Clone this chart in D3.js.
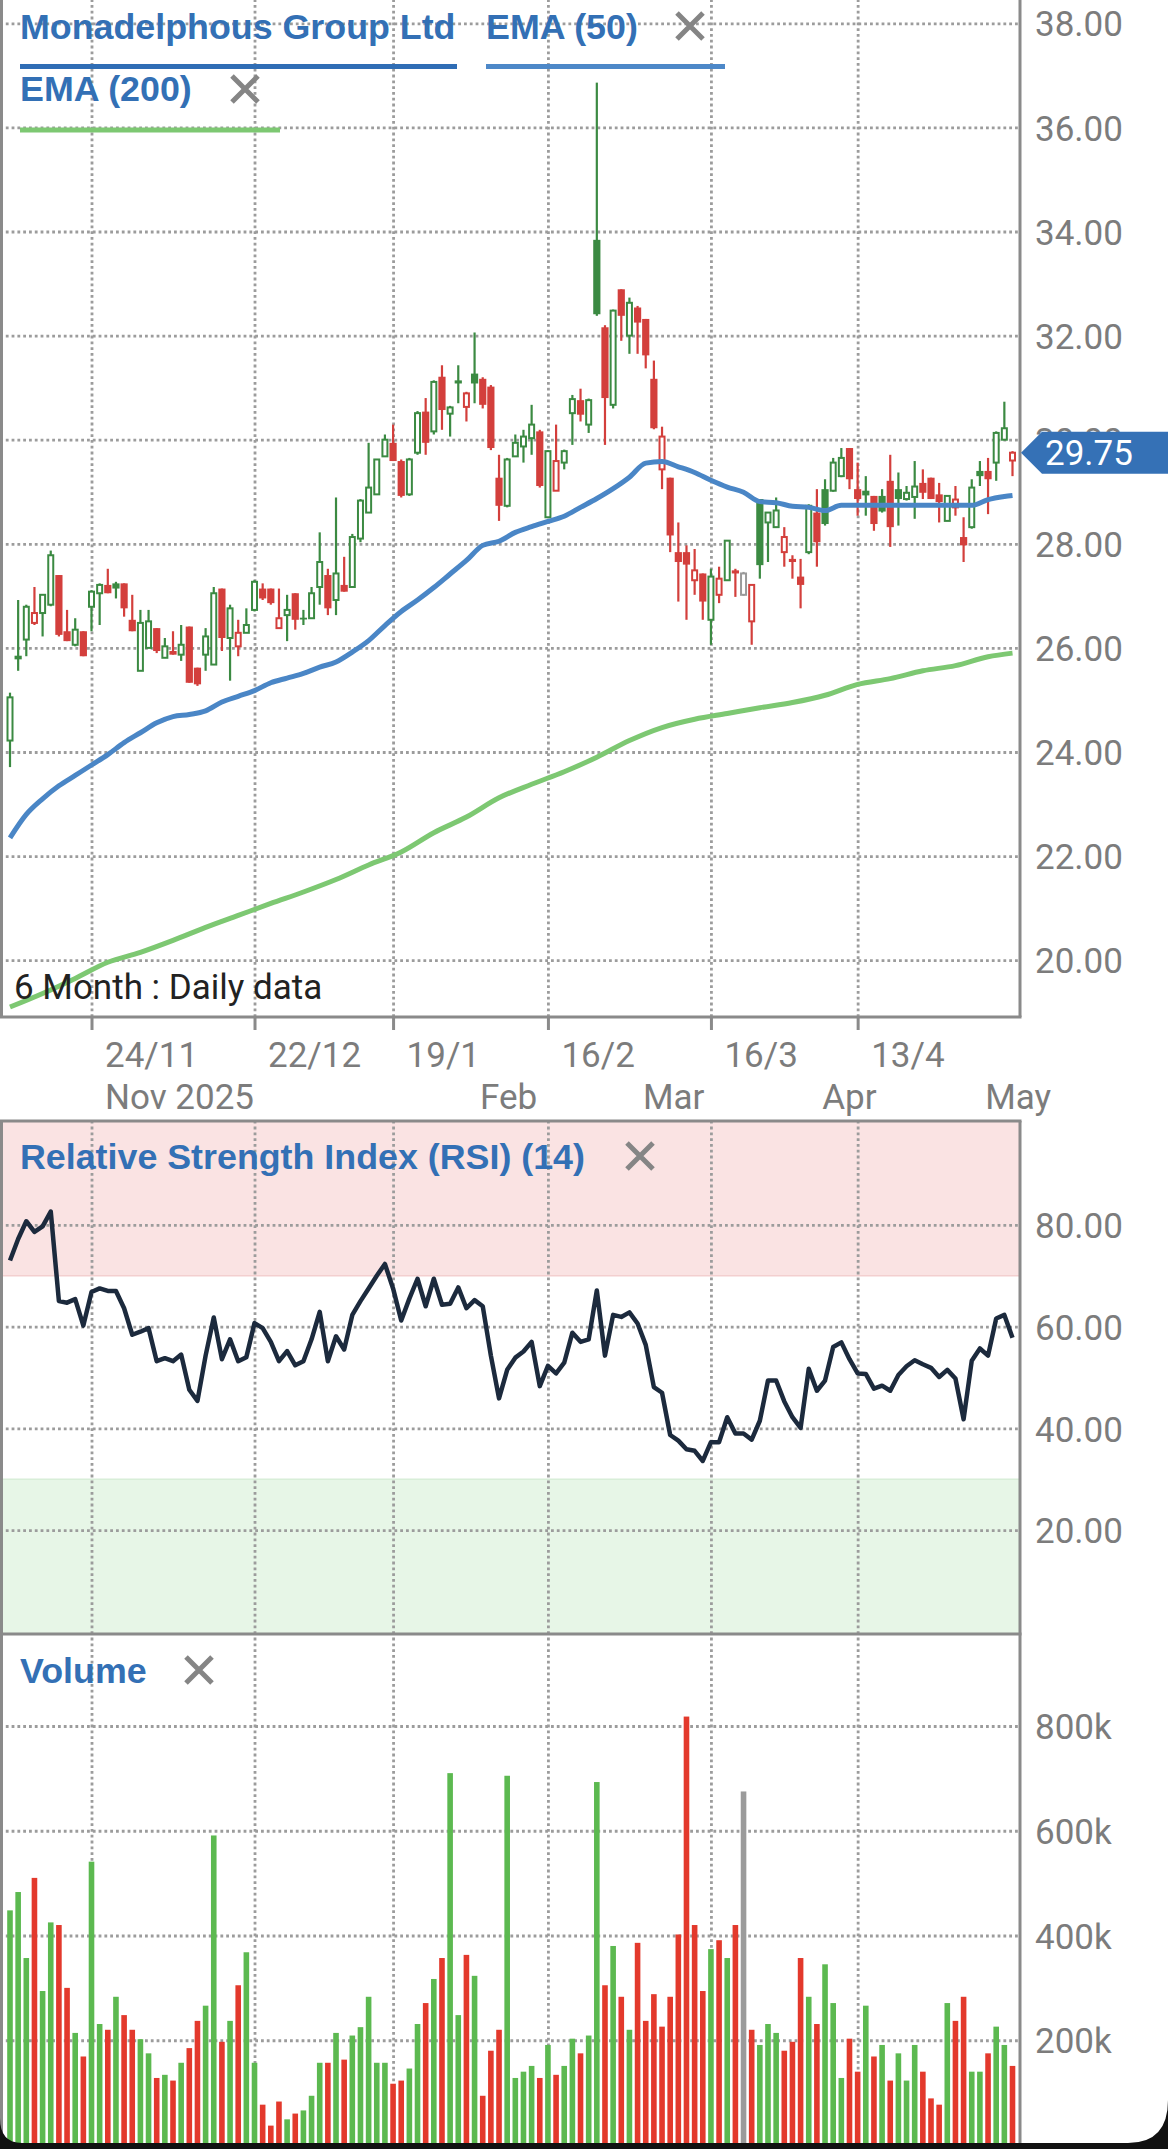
<!DOCTYPE html>
<html>
<head>
<meta charset="utf-8">
<script src="https://cdn.jsdelivr.net/npm/d3@7"></script>
<style>
  html, body { margin: 0; padding: 0; background: #fff; }
  svg { display: block; }
  .ax text { font-family: Roboto, "Noto Sans", sans-serif; font-size: 35px; fill: #7c7c7c; }
  .legend { font-family: "Liberation Sans", Arial, sans-serif; font-weight: bold; font-size: 35.8px; fill: #3370b5; }
</style>
</head>
<body>
<div id="chart"></div>
<script>
// ---- data ----
const open = [24.22,25.85,26.16,26.48,26.67,26.83,27.40,26.32,26.06,26.32,26.79,27.05,27.21,27.24,27.24,26.54,25.56,26.00,26.38,25.81,
  25.94,25.87,26.41,25.62,25.87,25.68,27.14,26.19,26.03,26.29,26.73,27.14,27.14,26.38,26.63,27.05,26.58,26.57,27.17,27.40,
  26.92,27.21,27.17,28.10,28.60,28.95,29.68,29.94,29.59,28.95,29.75,30.54,30.16,31.21,30.50,31.14,30.63,31.27,31.17,31.02,
  29.27,28.73,29.68,29.87,30.03,30.16,28.51,29.02,29.56,30.51,30.76,30.29,33.84,32.16,30.67,32.89,32.00,32.54,32.32,31.17,
  29.43,29.27,27.84,27.84,27.30,27.43,26.54,27.02,27.30,27.49,27.02,26.51,28.86,28.41,28.32,27.84,27.71,27.37,27.84,28.60,
  29.05,29.02,29.30,29.84,29.05,29.02,28.92,28.92,29.21,29.05,28.86,28.90,29.17,29.27,28.95,28.44,28.70,28.13,28.32,29.40,
  29.40,29.56,30.00,29.60];
const high = [25.14,26.92,26.83,27.17,27.02,27.87,27.40,26.73,26.57,26.32,27.11,27.24,27.52,27.27,27.24,27.02,26.73,26.73,26.38,26.19,
  26.32,26.44,26.41,25.62,26.38,27.17,27.14,26.83,26.54,26.76,27.30,27.24,27.14,27.14,27.02,27.05,26.73,27.17,28.22,27.52,
  28.89,27.75,28.19,28.86,29.94,29.62,30.10,30.29,29.62,29.65,30.55,30.80,31.14,31.43,30.65,31.43,30.92,32.06,31.20,31.05,
  29.71,29.65,30.10,30.19,30.67,30.19,29.80,30.29,29.81,30.86,30.98,30.79,36.86,32.20,32.50,32.89,32.73,32.57,32.32,31.52,
  30.25,29.27,28.41,27.97,27.90,27.43,27.52,27.56,28.06,27.52,27.46,27.21,28.86,28.60,28.89,28.32,27.78,27.71,28.76,29.05,
  29.24,29.65,29.84,29.84,29.56,29.30,28.92,29.05,29.71,29.37,29.11,29.59,29.43,29.27,29.17,28.92,29.11,28.51,29.24,29.59,
  29.65,30.16,30.73,29.78];
const low = [23.71,25.56,25.84,26.44,26.22,26.80,26.22,26.13,26.03,25.84,26.32,26.44,27.05,26.95,26.60,26.32,25.56,26.00,25.90,25.81,
  25.87,25.75,25.33,25.27,25.56,25.68,25.94,25.37,25.84,26.29,26.70,26.92,26.83,26.38,26.13,26.35,26.44,26.57,26.83,26.63,
  26.63,27.08,27.17,28.03,28.60,28.95,29.68,29.59,28.89,28.92,29.71,29.71,30.10,30.19,30.06,30.70,30.35,30.70,30.60,29.80,
  28.44,28.70,29.68,29.56,29.71,29.08,28.51,29.02,29.43,29.90,30.35,30.13,32.38,29.90,30.60,31.90,31.65,31.65,31.37,30.20,
  29.05,27.84,26.89,26.54,27.02,26.54,26.06,26.86,27.30,26.98,27.00,26.06,27.33,27.65,28.32,27.56,27.33,26.76,27.80,27.56,
  28.35,29.00,29.28,29.05,28.54,28.54,28.25,28.60,27.94,28.35,28.83,28.48,28.86,28.86,28.41,28.44,28.54,27.65,28.29,29.11,
  28.57,29.21,30.00,29.30];
const close = [25.05,25.78,26.79,26.67,27.02,27.78,26.25,26.13,26.35,25.84,27.08,27.21,27.05,27.14,26.76,26.32,26.48,26.51,25.94,26.03,
  25.87,26.06,25.33,25.30,26.22,27.05,26.19,26.76,26.29,26.44,27.27,26.95,26.86,26.57,26.73,26.54,26.55,27.05,27.65,26.76,
  27.43,27.08,28.13,28.83,29.08,29.62,30.00,29.59,28.92,29.62,30.51,29.94,31.11,30.57,30.62,31.08,30.89,31.08,30.67,29.84,
  28.73,29.62,29.94,30.06,30.29,29.11,29.78,29.59,29.78,30.78,30.48,30.76,32.41,30.80,32.48,32.38,32.63,32.25,31.62,30.22,
  30.06,28.16,27.65,27.60,27.49,26.89,27.37,27.33,28.06,27.43,27.43,27.21,27.59,28.60,28.64,28.13,27.65,27.21,28.73,28.03,
  28.38,29.56,29.65,29.24,28.86,28.93,28.38,28.62,28.32,28.86,28.98,29.10,28.98,28.86,28.80,28.92,28.85,27.97,29.08,29.30,
  29.24,30.13,30.22,29.75];
const volume = [448,483,357,510,294,425,420,300,214,169,541,231,220,283,248,220,202,175,128,134,
  123,157,185,237,266,591,197,237,305,368,157,77,37,83,49,60,66,94,157,157,
  214,163,209,225,283,157,157,117,123,146,231,271,317,357,710,248,363,323,94,180,
  220,705,128,140,151,128,191,134,151,203,175,209,693,305,380,283,220,386,237,288,
  226,283,402,818,420,294,374,391,357,420,675,220,191,231,214,180,197,357,283,231,
  345,271,128,203,140,266,169,191,123,175,123,191,140,89,77,271,237,283,140,140,
  175,226,191,151].map(v => v * 1000);
const rsi = [73.0,77.2,80.7,78.6,79.7,82.6,65.0,64.7,65.4,60.2,66.8,67.5,67.0,67.0,63.6,58.4,59.0,59.7,53.2,53.8,
  53.2,54.5,47.6,45.4,54.3,61.8,53.6,57.5,53.2,54.0,60.7,59.7,57.0,53.2,55.2,52.4,53.2,57.5,62.9,53.2,
  58.1,55.5,62.3,65.0,67.5,70.0,72.3,67.5,61.2,65.5,69.4,64.0,69.4,64.3,64.5,67.7,63.6,65.2,64.0,54.3,
  45.9,51.5,53.9,55.1,57.0,48.3,52.3,50.8,52.9,58.8,57.0,57.5,67.1,54.3,62.3,61.9,62.8,60.6,56.4,48.1,
  47.0,38.7,37.6,35.9,35.6,33.6,37.3,37.3,42.2,39.0,39.0,37.8,41.5,49.4,49.4,45.3,42.2,40.1,51.7,47.4,
  49.4,56.0,56.9,53.6,50.8,50.7,47.8,48.4,47.4,50.5,52.2,53.4,52.6,51.9,50.1,51.5,49.8,41.8,53.3,55.7,
  54.3,61.6,62.3,57.8];
// EMA values read every 2nd / 4th trading day
const ema50Day = d3.range(0, 123, 2).concat([123]);
const ema50 = [22.35,22.80,23.10,23.35,23.55,23.75,23.95,24.18,24.37,24.56,24.68,24.72,24.79,24.96,25.07,25.18,25.33,25.42,25.51,25.63,
  25.73,25.92,26.14,26.43,26.70,26.92,27.16,27.42,27.68,27.97,28.05,28.22,28.33,28.43,28.53,28.70,28.87,29.06,29.28,29.55,
  29.58,29.48,29.37,29.22,29.09,28.99,28.81,28.79,28.72,28.70,28.64,28.74,28.74,28.74,28.74,28.74,28.74,28.74,28.74,28.74,
  28.85,28.91,28.93];
const ema200Day = d3.range(0, 121, 4).concat([123]);
const ema200 = [19.10,19.36,19.65,19.96,20.15,20.38,20.63,20.86,21.09,21.31,21.55,21.83,22.08,22.45,22.75,23.12,23.38,23.62,23.90,24.22,
  24.47,24.63,24.74,24.85,24.95,25.09,25.30,25.41,25.56,25.66,25.83,25.90];

const holidays = ["2025-12-25","2025-12-26","2026-01-01","2026-01-26","2026-04-03","2026-04-06"];
const dayTickDates = ["2025-11-24","2025-12-22","2026-01-19","2026-02-16","2026-03-16","2026-04-13"];
const dayTickLabels = ["24/11","22/12","19/1","16/2","16/3","13/4"];
const monthTickDates = ["2025-11-24","2026-02-02","2026-03-02","2026-04-01","2026-05-01"];
const monthTickLabels = ["Nov 2025","Feb","Mar","Apr","May"];
const priceTicks = [20,22,24,26,28,30,32,34,36,38];
const rsiTicks = [20,40,60,80];
const volTicks = [200000,400000,600000,800000];
const lastPrice = 29.75;

// trading days (weekdays less ASX holidays)
const dates = [];
for (let t = Date.UTC(2025, 10, 10); dates.length < close.length; t += 864e5) {
  const d = new Date(t), s = d.toISOString().slice(0, 10), wd = d.getUTCDay();
  if (wd !== 0 && wd !== 6 && !holidays.includes(s)) dates.push(s);
}
const idx = s => dates.indexOf(s);

// ---- layout ----
const W = 1168, H = 2149, R = 1020;
const P = {top: 0, bottom: 1017};
const S = {top: 1121, bottom: 1634};
const V = {top: 1634, bottom: 2145};

const x = d3.scaleLinear().domain([0, dates.length - 1]).range([10, 1012.5]);
const yP = d3.scaleLinear().domain([20, 38]).range([960.2, 23.3]);
const yR = d3.scaleLinear().domain([0, 100]).range([1632, 1123]);
const yV = d3.scaleLinear().domain([0, 800000]).range([2145, 1726]);

const svg = d3.select("#chart").append("svg").attr("width", W).attr("height", H);
svg.append("rect").attr("width", W).attr("height", H).attr("fill", "#fff");

const defs = svg.append("defs");
defs.append("clipPath").attr("id", "cp").append("rect").attr("x", 2).attr("y", 0).attr("width", R - 2).attr("height", P.bottom);
defs.append("clipPath").attr("id", "cr").append("rect").attr("x", 2).attr("y", S.top).attr("width", R - 2).attr("height", S.bottom - S.top);

// RSI bands
svg.append("rect").attr("x", 2).attr("y", S.top).attr("width", R - 2).attr("height", yR(70) - S.top).attr("fill", "#fae3e3");
svg.append("rect").attr("x", 2).attr("y", yR(30)).attr("width", R - 2).attr("height", S.bottom - yR(30)).attr("fill", "#e7f6e7");
svg.append("line").attr("x1", 2).attr("x2", R).attr("y1", yR(70)).attr("y2", yR(70)).attr("stroke", "#f3cfcf").attr("stroke-width", 1.5);
svg.append("line").attr("x1", 2).attr("x2", R).attr("y1", yR(30)).attr("y2", yR(30)).attr("stroke", "#d8eed8").attr("stroke-width", 1.5);

// grids
function styleGrid(g) {
  g.select(".domain").remove();
  g.selectAll("line").attr("stroke", "#9c9c9c").attr("stroke-width", 2.8).attr("stroke-dasharray", "2.8,3");
}
const dayTickIdx = dayTickDates.map(idx);
[[P.top, P.bottom], [S.top, S.bottom], [V.top, V.bottom]].forEach(([t, b]) => {
  svg.append("g").attr("transform", `translate(0,${b})`)
    .call(d3.axisBottom(x).tickValues(dayTickIdx).tickSize(-(b - t)).tickFormat(""))
    .call(styleGrid);
});
svg.append("g").call(d3.axisRight(yP).tickValues(priceTicks).tickSize(R).tickFormat("")).call(styleGrid);
svg.append("g").call(d3.axisRight(yR).tickValues(rsiTicks).tickSize(R).tickFormat("")).call(styleGrid);
svg.append("g").call(d3.axisRight(yV).tickValues(volTicks).tickSize(R).tickFormat("")).call(styleGrid);

// candles
const up = "#3b8a42", down = "#d33f3c", flat = "#9a9a9a";
const candles = close.map((c, i) => {
  const prev = i > 0 ? close[i - 1] : open[i];
  return {i, o: open[i], h: high[i], l: low[i], c, v: volume[i],
    col: c > prev ? up : c < prev ? down : flat, hollow: c > open[i]};
});
const cg = svg.append("g").attr("clip-path", "url(#cp)");
cg.selectAll("line.wick").data(candles).join("line").attr("class", "wick")
  .attr("x1", d => x(d.i)).attr("x2", d => x(d.i))
  .attr("y1", d => yP(d.h)).attr("y2", d => yP(d.l))
  .attr("stroke", d => d.col).attr("stroke-width", 2.2);
cg.selectAll("rect.body").data(candles).join("rect").attr("class", "body")
  .attr("x", d => x(d.i) - (d.hollow ? 2.5 : 3.6))
  .attr("width", d => d.hollow ? 5 : 7.2)
  .attr("y", d => yP(Math.max(d.o, d.c)))
  .attr("height", d => Math.max(1.8, Math.abs(yP(d.o) - yP(d.c))))
  .attr("fill", d => d.hollow ? "#fff" : d.col)
  .attr("stroke", d => d.hollow ? d.col : "none")
  .attr("stroke-width", 2);

// EMAs
const emaLine = d3.line().x(d => x(d[0])).y(d => yP(d[1])).curve(d3.curveMonotoneX);
cg.append("path").attr("d", emaLine(ema200Day.map((d, k) => [d, ema200[k]])))
  .attr("fill", "none").attr("stroke", "#7dc872").attr("stroke-width", 5);
cg.append("path").attr("d", emaLine(ema50Day.map((d, k) => [d, ema50[k]])))
  .attr("fill", "none").attr("stroke", "#4a86c6").attr("stroke-width", 5);

// RSI line
svg.append("g").attr("clip-path", "url(#cr)").append("path")
  .attr("d", d3.line().x((d, i) => x(i)).y(d => yR(d))(rsi))
  .attr("fill", "none").attr("stroke", "#1c2a3d").attr("stroke-width", 4.5)
  .attr("stroke-linejoin", "round");

// volume bars
svg.append("g").selectAll("rect").data(candles).join("rect")
  .attr("x", d => x(d.i) - 2.8).attr("width", 5.6)
  .attr("y", d => yV(d.v)).attr("height", d => yV(0) - yV(d.v))
  .attr("fill", d => d.col === up ? "#5cb950" : d.col === down ? "#e3392c" : "#9b9b9b");

// panel borders
const bc = "#8a8a8a";
function seg(x1, y1, x2, y2) {
  svg.append("line").attr("x1", x1).attr("y1", y1).attr("x2", x2).attr("y2", y2)
    .attr("stroke", bc).attr("stroke-width", 3);
}
seg(1.5, 0, 1.5, P.bottom); seg(R, 0, R, P.bottom); seg(0, P.bottom, R + 1.5, P.bottom);
seg(0, S.top, R + 1.5, S.top); seg(1.5, S.top, 1.5, V.bottom); seg(R, S.top, R, V.bottom);
seg(0, S.bottom, R + 1.5, S.bottom);

// right-hand axes
function rightAxis(scale, ticks, fmt) {
  svg.append("g").attr("class", "ax").attr("transform", `translate(${R},0)`)
    .call(d3.axisRight(scale).tickValues(ticks).tickSize(0).tickPadding(15).tickFormat(fmt))
    .call(g => g.select(".domain").remove())
    .call(g => g.selectAll("text").attr("dy", "0.36em"));
}
rightAxis(yP, priceTicks, d3.format(".2f"));
rightAxis(yR, rsiTicks, d3.format(".2f"));
rightAxis(yV, volTicks, d => d / 1000 + "k");

// date axis
svg.append("g").attr("class", "ax").attr("transform", `translate(0,${P.bottom})`)
  .call(d3.axisBottom(x).tickValues(dayTickIdx).tickSize(13).tickFormat((d, k) => dayTickLabels[k]))
  .call(g => g.select(".domain").remove())
  .call(g => g.selectAll("line").attr("stroke", bc).attr("stroke-width", 3))
  .call(g => g.selectAll("text").attr("text-anchor", "start").attr("x", 13).attr("y", 50).attr("dy", 0));
svg.append("g").attr("class", "ax").attr("transform", `translate(0,${P.bottom})`)
  .call(d3.axisBottom(x).tickValues(monthTickDates.map(idx)).tickSize(0).tickFormat((d, k) => monthTickLabels[k]))
  .call(g => g.select(".domain").remove())
  .call(g => g.selectAll("text").attr("text-anchor", "start").attr("x", 13).attr("y", 92).attr("dy", 0));

svg.append("text").attr("x", 14).attr("y", 999).text("6 Month : Daily data")
  .style("font-family", "Roboto, sans-serif").style("font-size", "35px").attr("fill", "#222");

// legends
function cross(cx, cy) {
  svg.append("path").attr("d", `M${cx - 13},${cy - 13}L${cx + 13},${cy + 13}M${cx + 13},${cy - 13}L${cx - 13},${cy + 13}`)
    .attr("stroke", "#858585").attr("stroke-width", 5);
}
svg.append("text").attr("class", "legend").attr("x", 20).attr("y", 39).text("Monadelphous Group Ltd");
svg.append("rect").attr("x", 20).attr("y", 64).attr("width", 437).attr("height", 5).attr("fill", "#2f6db5");
svg.append("text").attr("class", "legend").attr("x", 486).attr("y", 39).text("EMA (50)");
svg.append("rect").attr("x", 486).attr("y", 64).attr("width", 239).attr("height", 5).attr("fill", "#4d88c8");
cross(690, 26);
svg.append("text").attr("class", "legend").attr("x", 20).attr("y", 101).text("EMA (200)");
svg.append("rect").attr("x", 20).attr("y", 127.5).attr("width", 260).attr("height", 5).attr("fill", "#7dc872");
cross(245, 89);
svg.append("text").attr("class", "legend").attr("x", 20).attr("y", 1169).text("Relative Strength Index (RSI) (14)");
cross(640, 1156);
svg.append("text").attr("class", "legend").attr("x", 20).attr("y", 1683).text("Volume");
cross(199, 1670);

// last price flag (sits over the 30.00 label, as in the source)
const fy = yP(lastPrice);
svg.append("path")
  .attr("d", `M${R + 1},${fy} L${R + 22},${fy - 21} L${W},${fy - 21} L${W},${fy + 21} L${R + 22},${fy + 21} Z`)
  .attr("fill", "#3571b6");
svg.append("text").attr("x", 1045).attr("y", fy).attr("dy", "0.36em").text(d3.format(".2f")(lastPrice))
  .style("font-family", "Roboto, sans-serif").style("font-size", "35px").attr("fill", "#fff");

// device frame edge at the bottom
svg.append("path")
  .attr("d", `M0,2118 Q0,2143 22,2143 L${W - 40},2143 Q${W},2143 ${W},2100 L${W},${H} L0,${H} Z`)
  .attr("fill", "#111");
</script>
</body>
</html>
